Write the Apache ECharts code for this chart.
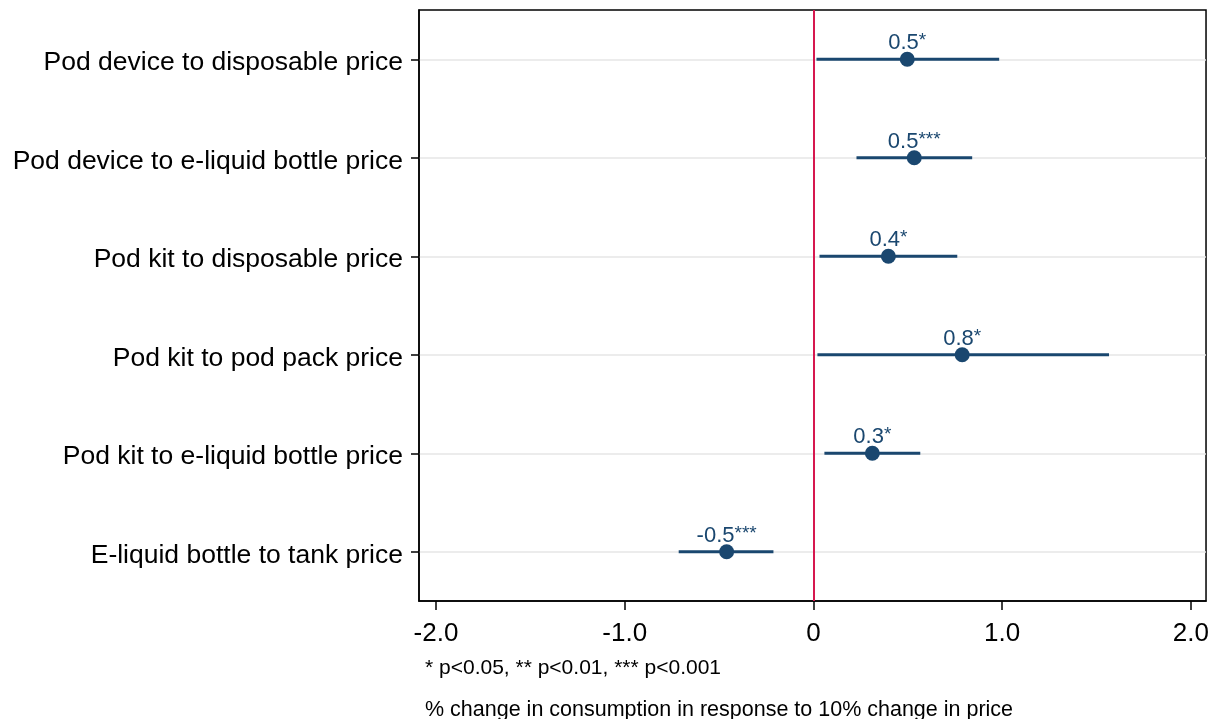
<!DOCTYPE html>
<html>
<head>
<meta charset="utf-8">
<script src="https://cdn.jsdelivr.net/npm/echarts@6/dist/echarts.min.js"></script>
<style>html,body{margin:0;padding:0;background:#fff;}#c{width:1212px;height:719px;}</style>
</head>
<body>
<div id="c"></div>
<script>
const categories = [
  'Pod device to disposable price',
  'Pod device to e-liquid bottle price',
  'Pod kit to disposable price',
  'Pod kit to pod pack price',
  'Pod kit to e-liquid bottle price',
  'E-liquid bottle to tank price'
];
const estimates = [0.497, 0.534, 0.397, 0.788, 0.312, -0.460];
const lowerCI   = [0.016, 0.228, 0.032, 0.021, 0.058, -0.714];
const upperCI   = [0.984, 0.841, 0.762, 1.566, 0.566, -0.212];
const pointLabels = ['0.5', '0.5', '0.4', '0.8', '0.3', '-0.5'];
const stars = ['*', '***', '*', '*', '*', '***'];
const xTicks = [-2, -1, 0, 1, 2];
const xTickLabels = ['-2.0', '-1.0', '0', '1.0', '2.0'];

const navy = '#1a476f';
const font = '"Liberation Sans", Arial, sans-serif';

const chart = echarts.init(document.getElementById('c'), null, {renderer: 'canvas'});
chart.setOption({
  animation: false,
  textStyle: {fontFamily: font},
  grid: {left: 419, right: 5, top: 10, bottom: 118, show: true, borderColor: '#000', borderWidth: 1.5},
  xAxis: {
    type: 'value', min: -2.09, max: 2.08,
    axisLine: {show: true, onZero: false, lineStyle: {color: '#000', width: 1.5}},
    axisTick: {show: true, customValues: xTicks, length: 9, inside: false, lineStyle: {color: '#000', width: 1.5}},
    axisLabel: {show: true, customValues: xTicks, fontSize: 26, color: '#000', margin: 20, fontFamily: font,
      formatter: v => { const i = xTicks.indexOf(Math.round(v)); return i >= 0 ? xTickLabels[i] : ''; }},
    splitLine: {show: false}
  },
  yAxis: {
    type: 'category', data: categories, inverse: true,
    axisLine: {show: true, onZero: false, lineStyle: {color: '#000', width: 1.5}},
    axisTick: {show: true, alignWithLabel: true, length: 8, lineStyle: {color: '#000', width: 1.5}},
    axisLabel: {color: '#000', margin: 16, fontFamily: font,
      formatter: v => '{a|' + v + '}',
      rich: {a: {fontSize: 26.5, color: '#000', fontFamily: font, padding: [7, 0, 0, 0]}}},
    splitLine: {show: false}
  },
  series: [
    {
      type: 'line',
      z: 0,
      silent: true,
      data: [],
      markLine: {
        silent: true, symbol: 'none', label: {show: false}, z: 0,
        lineStyle: {color: '#e6e6e6', width: 1.5, type: 'solid'},
        data: categories.map((c, i) => ({yAxis: i}))
      }
    },
    {
      type: 'custom',
      z: 6,
      silent: true,
      data: categories.map((c, i) => [lowerCI[i], i, upperCI[i]]),
      encode: {x: [0, 2], y: 1},
      renderItem: (params, api) => {
        const p1 = api.coord([api.value(0), api.value(1)]);
        const p2 = api.coord([api.value(2), api.value(1)]);
        return {type: 'line', shape: {x1: p1[0], y1: p1[1], x2: p2[0], y2: p2[1]},
          style: {stroke: navy, lineWidth: 3}};
      }
    },
    {
      type: 'scatter',
      z: 7,
      symbol: 'circle', symbolSize: 15,
      itemStyle: {color: navy, opacity: 1},
      data: categories.map((c, i) => [estimates[i], i]),
      label: {
        show: true, position: 'top', distance: -3,
        formatter: p => '{n|' + pointLabels[p.dataIndex] + '}{s|' + stars[p.dataIndex] + '}',
        rich: {
          n: {fontSize: 22, lineHeight: 23, color: navy, fontFamily: font},
          s: {fontSize: 19, lineHeight: 23, verticalAlign: 'top', color: navy, fontFamily: font}
        }
      },
      markLine: {
        silent: true, symbol: 'none', label: {show: false}, z: 3,
        lineStyle: {color: '#d6184f', width: 2, type: 'solid'},
        data: [{xAxis: 0}]
      }
    }
  ],
  graphic: [
    {type: 'text', left: 425, top: 658, style: {text: '* p<0.05, ** p<0.01, *** p<0.001', font: '21px ' + font, fill: '#000'}},
    {type: 'text', left: 425, top: 699, style: {text: '% change in consumption in response to 10% change in price', font: '21.5px ' + font, fill: '#000'}}
  ]
});
</script>
</body>
</html>
